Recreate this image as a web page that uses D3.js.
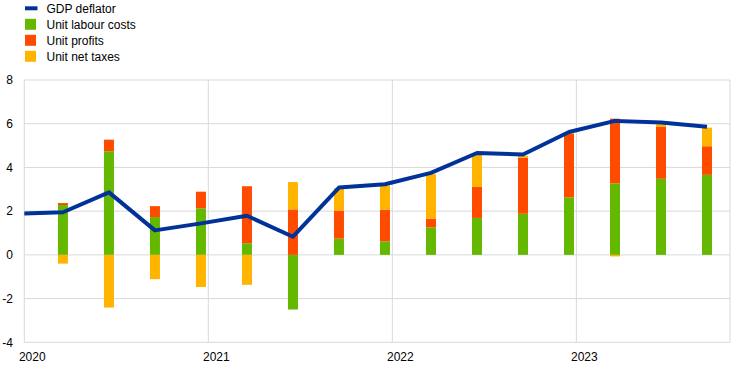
<!DOCTYPE html>
<html>
<head>
<meta charset="utf-8">
<script src="https://cdn.jsdelivr.net/npm/d3@7"></script>
<style>
  html, body { margin: 0; padding: 0; background: #fff; }
  svg { display: block; font-family: "Liberation Sans", Arial, sans-serif; }
</style>
</head>
<body>
<svg id="chart" width="744" height="371"></svg>
<script>
// ---- data ----
const quarters = ["2020Q1","2020Q2","2020Q3","2020Q4","2021Q1","2021Q2","2021Q3","2021Q4",
                  "2022Q1","2022Q2","2022Q3","2022Q4","2023Q1","2023Q2","2023Q3"];
const unitLabourCosts = [2.28, 4.74, 1.73, 2.13, 0.53, -2.50, 0.74, 0.62, 1.26, 1.69, 1.88, 2.63, 3.27, 3.48, 3.66];
const unitProfits     = [0.09, 0.53, 0.50, 0.76, 2.61, 2.08, 1.29, 1.44, 0.40, 1.42, 2.57, 2.91, 2.96, 2.37, 1.31];
const unitNetTaxes    = [-0.40, -2.41, -1.11, -1.47, -1.37, 1.25, 1.02, 1.11, 2.03, 1.48, 0.08, 0.05, -0.07, 0.12, 0.85];
const deflatorQuarters = ["2019Q4"].concat(quarters);
const gdpDeflator     = [1.88, 1.95, 2.86, 1.12, 1.44, 1.79, 0.83, 3.08, 3.23, 3.75, 4.66, 4.59, 5.62, 6.13, 6.06, 5.86];
const yTicks = [-4, -2, 0, 2, 4, 6, 8];
const xTicks = [2020, 2021, 2022, 2023];

const seriesNames  = ["Unit labour costs", "Unit profits", "Unit net taxes"];
const seriesColors = ["#65b800", "#ff4b00", "#ffb400"];
const lineColor = "#003299";

(function () {
// quarter label -> decimal year position
function qPos(label) {
  const yr = +label.slice(0, 4), q = +label.slice(5);
  return yr + 0.21 + (q - 1) * 0.25;
}

const svg = d3.select("#chart");
const pLeft = 24.3, pRight = 730, pTop = 80, pBottom = 342.3;

const x = d3.scaleLinear().domain([2020, 2023.835]).range([pLeft, pRight]);
const y = d3.scaleLinear().domain([-4, 8]).range([pBottom, pTop]);

const grid = "#d9d9d9";

svg.append("g").selectAll("line").data(yTicks).join("line")
  .attr("x1", pLeft).attr("x2", pRight)
  .attr("y1", d => y(d)).attr("y2", d => y(d))
  .attr("stroke", grid).attr("stroke-width", 1);

svg.append("g").selectAll("line").data(xTicks).join("line")
  .attr("x1", d => x(d)).attr("x2", d => x(d))
  .attr("y1", pTop).attr("y2", pBottom)
  .attr("stroke", grid).attr("stroke-width", 1);
svg.append("line").attr("x1", pRight).attr("x2", pRight).attr("y1", pTop).attr("y2", pBottom)
  .attr("stroke", grid);

svg.append("g").selectAll("text").data(yTicks).join("text")
  .attr("x", 13).attr("y", d => y(d)).attr("dy", "0.35em")
  .attr("text-anchor", "end").attr("font-size", 12).attr("fill", "#000")
  .text(d => d);

svg.append("g").selectAll("text").data(xTicks).join("text")
  .attr("x", d => x(d) + 8).attr("y", 360.5)
  .attr("text-anchor", "middle").attr("font-size", 12).attr("fill", "#000")
  .text(d => d);

const seriesData = [unitLabourCosts, unitProfits, unitNetTaxes];
const barW = 10;
const bars = [];
quarters.forEach((q, i) => {
  let pos = 0, neg = 0;
  seriesData.forEach((s, k) => {
    const v = s[i];
    let y0, y1;
    if (v >= 0) { y0 = pos; y1 = pos + v; pos = y1; }
    else { y0 = neg; y1 = neg + v; neg = y1; }
    bars.push({ q, k, y0, y1 });
  });
});
svg.append("g").selectAll("rect").data(bars).join("rect")
  .attr("x", d => x(qPos(d.q)) - barW / 2)
  .attr("width", barW)
  .attr("y", d => y(Math.max(d.y0, d.y1)))
  .attr("height", d => Math.abs(y(d.y0) - y(d.y1)))
  .attr("fill", d => seriesColors[d.k]);

svg.append("clipPath").attr("id", "plotclip")
  .append("rect").attr("x", pLeft).attr("y", 0).attr("width", pRight - pLeft).attr("height", 371);

const line = d3.line()
  .x((d, i) => x(qPos(deflatorQuarters[i])))
  .y(d => y(d));
svg.append("path")
  .datum(gdpDeflator)
  .attr("clip-path", "url(#plotclip)")
  .attr("d", line)
  .attr("fill", "none")
  .attr("stroke", lineColor)
  .attr("stroke-width", 4)
  .attr("stroke-linejoin", "round");

const legend = svg.append("g");
const rowY = [8.3, 24.3, 40.3, 56.3];
legend.append("line").attr("x1", 25).attr("x2", 37.5).attr("y1", rowY[0]).attr("y2", rowY[0])
  .attr("stroke", lineColor).attr("stroke-width", 4);
legend.append("text").attr("x", 46.5).attr("y", rowY[0]).attr("dy", "0.35em")
  .attr("font-size", 12).text("GDP deflator");
seriesNames.forEach((n, k) => {
  legend.append("rect").attr("x", 25).attr("y", rowY[k + 1] - 5.5).attr("width", 11).attr("height", 11)
    .attr("fill", seriesColors[k]);
  legend.append("text").attr("x", 46.5).attr("y", rowY[k + 1]).attr("dy", "0.35em")
    .attr("font-size", 12).text(n);
});
})();
</script>
</body>
</html>
